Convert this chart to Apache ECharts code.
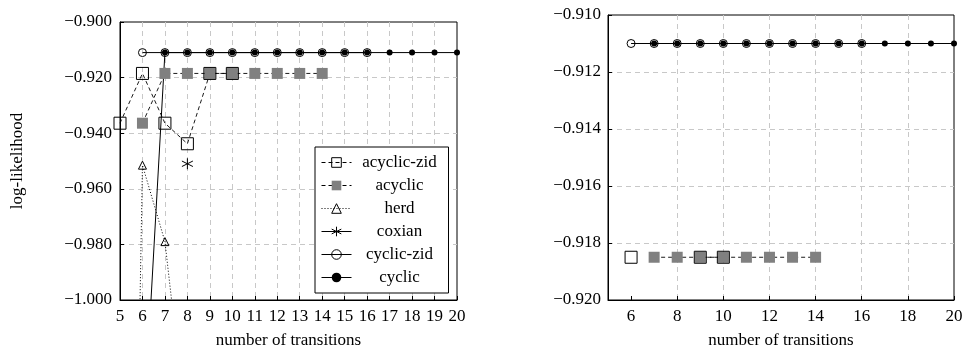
<!DOCTYPE html>
<html><head><meta charset="utf-8">
<script src="https://cdn.jsdelivr.net/npm/echarts@6/dist/echarts.min.js"></script>
<style>html,body{margin:0;padding:0;background:#fff}#c{width:964px;height:351px}</style>
</head><body><div id="c"></div>
<script>
// ---- data ----
const transitions = [5, 6, 7, 8, 9, 10, 11, 12, 13, 14, 15, 16, 17, 18, 19, 20];
const acyclicZid = [-0.9364, -0.9185, -0.9364, -0.9438, -0.9185, -0.9185, null, null, null, null, null, null, null, null, null, null];
const acyclic    = [null, -0.9364, -0.9185, -0.9185, -0.9185, -0.9185, -0.9185, -0.9185, -0.9185, -0.9185, null, null, null, null, null, null];
const herd       = [-1.40, -0.9515, -0.979, -1.05, null, null, null, null, null, null, null, null, null, null, null, null];
const coxian     = [null, null, null, -0.951, null, null, null, null, null, null, null, null, null, null, null, null];
const cyclicZid  = [null, -0.911, -0.911, -0.911, -0.911, -0.911, -0.911, -0.911, -0.911, -0.911, -0.911, -0.911, null, null, null, null];
const cyclic     = [null, -1.0545, -0.911, -0.911, -0.911, -0.911, -0.911, -0.911, -0.911, -0.911, -0.911, -0.911, -0.911, -0.911, -0.911, -0.911];
const seriesNames = ['acyclic-zid', 'acyclic', 'herd', 'coxian', 'cyclic-zid', 'cyclic'];
const leftXTicks = [5, 6, 7, 8, 9, 10, 11, 12, 13, 14, 15, 16, 17, 18, 19, 20];
const rightXTicks = [6, 8, 10, 12, 14, 16, 18, 20];
const leftY = [-1.0, -0.9];
const rightY = [-0.92, -0.91];

// ---- styles ----
const FONT = 'Liberation Serif';
const FS = 17;
const styles = {
  'acyclic': {symbol: 'rect', symbolSize: 11, itemStyle: {color: '#808080', borderWidth: 0}, lineStyle: {color: '#000', width: 0.9, type: [4, 3]}},
  'acyclic-zid': {symbol: 'rect', symbolSize: 12, itemStyle: {color: 'transparent', borderColor: '#000', borderWidth: 1}, lineStyle: {color: '#000', width: 0.9, type: [4, 3]}},
  'herd': {symbol: 'triangle', symbolSize: 8, itemStyle: {color: 'transparent', borderColor: '#000', borderWidth: 1}, lineStyle: {color: '#000', width: 1, type: [1, 2]}},
  'coxian': {symbol: 'path://M0,-10L0,10M-8.66,-5L8.66,5M-8.66,5L8.66,-5', symbolSize: 11, itemStyle: {color: 'transparent', borderColor: '#000', borderWidth: 1}, lineStyle: {color: '#000', width: 1}},
  'cyclic-zid': {symbol: 'circle', symbolSize: 8, itemStyle: {color: 'transparent', borderColor: '#000', borderWidth: 1}, lineStyle: {color: '#000', width: 1}},
  'cyclic': {symbol: 'circle', symbolSize: 6, itemStyle: {color: '#000', borderWidth: 0}, lineStyle: {color: '#000', width: 1}}
};
const arrays = {'acyclic-zid': acyclicZid, 'acyclic': acyclic, 'herd': herd, 'coxian': coxian, 'cyclic-zid': cyclicZid, 'cyclic': cyclic};
const drawOrder = ['acyclic', 'acyclic-zid', 'herd', 'coxian', 'cyclic', 'cyclic-zid'];

function fmtY(v) { return (v < 0 ? '\u2212' : '') + Math.abs(v).toFixed(3); }

function makeSeries(gridIdx, range) {
  return drawOrder.map(name => {
    const arr = arrays[name];
    let data;
    if (range) {
      // discard out-of-range coordinates (line jumps)
      data = transitions.map((x, i) => {
        const v = arr[i];
        return (v == null || v < range[0] || v > range[1]) ? [x, '-'] : [x, v];
      });
    } else {
      data = transitions.map((x, i) => [x, arr[i]]).filter(d => d[1] != null);
    }
    const s = styles[name];
    return Object.assign({
      type: 'line', name: name, xAxisIndex: gridIdx, yAxisIndex: gridIdx,
      data: data, connectNulls: false, clip: true, animation: false,
      emphasis: {disabled: true}, silent: true
    }, JSON.parse(JSON.stringify(s)));
  });
}

const lbl = {color: '#000', fontFamily: FONT, fontSize: FS};
const split = {show: true, showMinLine: false, showMaxLine: false, lineStyle: {color: '#c8c8c8', width: 1, type: [5, 4]}};
const axLine = {show: true, onZero: false, lineStyle: {color: '#000', width: 1}};
function tick(custom) {
  const t = {show: true, inside: true, length: 4, lineStyle: {color: '#000', width: 1}};
  if (custom) t.customValues = custom;
  return t;
}

const option = {
  animation: false,
  backgroundColor: '#fff',
  grid: [
    {left: 120, top: 22, width: 337, height: 278, show: true, borderColor: '#000', borderWidth: 1, backgroundColor: 'transparent', containLabel: false, outerBoundsMode: 'none'},
    {left: 608, top: 15, width: 346, height: 285, show: true, borderColor: '#000', borderWidth: 1, backgroundColor: 'transparent', containLabel: false, outerBoundsMode: 'none'}
  ],
  xAxis: [
    {gridIndex: 0, type: 'value', min: 5, max: 20, interval: 1, axisLine: axLine, axisTick: tick(leftXTicks),
     axisLabel: Object.assign({margin: 8, customValues: leftXTicks}, lbl), splitLine: split,
     name: 'number of transitions', nameLocation: 'middle', nameGap: 32, nameTextStyle: lbl},
    {gridIndex: 1, type: 'value', min: 5, max: 20, axisLine: axLine, axisTick: tick(rightXTicks),
     axisLabel: Object.assign({margin: 8, customValues: rightXTicks}, lbl), splitLine: split,
     name: 'number of transitions', nameLocation: 'middle', nameGap: 32, nameTextStyle: lbl}
  ],
  yAxis: [
    {gridIndex: 0, type: 'value', min: leftY[0], max: leftY[1], interval: 0.02, axisLine: axLine, axisTick: tick(null),
     axisLabel: Object.assign({margin: 8, formatter: fmtY}, lbl), splitLine: split,
     name: 'log-likelihood', nameLocation: 'middle', nameGap: 94, nameRotate: 90, nameTextStyle: lbl},
    {gridIndex: 1, type: 'value', min: rightY[0], max: rightY[1], interval: 0.002, axisLine: axLine, axisTick: tick(null),
     axisLabel: Object.assign({margin: 7, formatter: fmtY}, lbl), splitLine: split}
  ],
  legend: {
    orient: 'vertical', left: 315, top: 147, padding: [7, 6], itemGap: 6, itemWidth: 30, itemHeight: 12,
    backgroundColor: '#fff', borderColor: '#000', borderWidth: 1, borderRadius: 0,
    data: seriesNames.map(n => ({name: n, itemStyle: {borderWidth: styles[n].itemStyle.borderWidth, borderColor: '#000'}})),
    selectedMode: false,
    lineStyle: {width: 1},
    formatter: n => '{c|' + n + '}',
    textStyle: {color: '#000', fontFamily: FONT, fontSize: FS,
      rich: {c: {width: 86, align: 'center', lineHeight: 17, fontFamily: FONT, fontSize: FS, color: '#000'}}}
  },
  series: makeSeries(0, null).concat(makeSeries(1, rightY))
};

const chart = echarts.init(document.getElementById('c'), null, {renderer: 'canvas'});
chart.setOption(option);
</script>
</body></html>
